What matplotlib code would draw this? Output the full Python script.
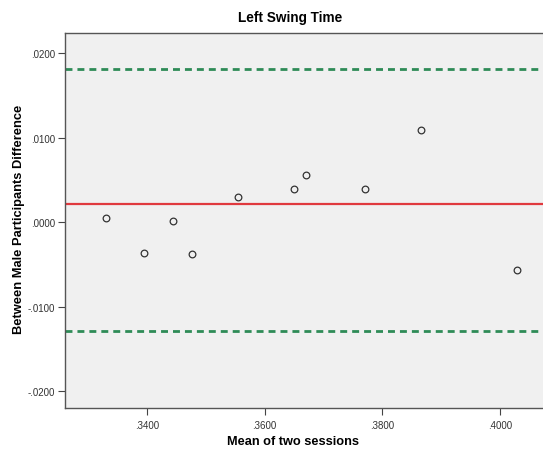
import matplotlib.pyplot as plt

# Bland-Altman data
mean_sessions = [0.3330, 0.3395, 0.3445, 0.3477, 0.3555, 0.3650, 0.3671, 0.3771, 0.3865, 0.4029]
difference = [0.0005, -0.0037, 0.0001, -0.0038, 0.0030, 0.0039, 0.0056, 0.0039, 0.0109, -0.0057]
mean_diff = 0.0021
upper_loa = 0.0181
lower_loa = -0.0129

x_ticks = [0.34, 0.36, 0.38, 0.40]
x_tick_labels = [".3400", ".3600", ".3800", ".4000"]
y_ticks = [-0.02, -0.01, 0.0, 0.01, 0.02]
y_tick_labels = ["-.0200", "-.0100", ".0000", ".0100", ".0200"]

plt.rcParams["font.family"] = ["Liberation Sans", "DejaVu Sans"]

fig = plt.figure(figsize=(5.43, 4.56), dpi=100)
ax = fig.add_axes([0.1197, 0.1031, 0.8803, 0.8223])
ax.set_facecolor("#f0f0f0")

ax.axhline(mean_diff, color="#e0393e", lw=1.6, zorder=2)
ax.axhline(upper_loa, color="#2e8b57", lw=2.0, ls=(0, (2.5, 1.8)), zorder=2)
ax.axhline(lower_loa, color="#2e8b57", lw=2.0, ls=(0, (2.5, 1.8)), zorder=2)

ax.plot(mean_sessions, difference, "o", ms=4.8, mfc="none", mec="#333333", mew=0.9, zorder=3)

ax.set_xlim(0.3261, 0.4073)
ax.set_ylim(-0.0220, 0.0224)
ax.set_xticks(x_ticks)
ax.set_xticklabels(x_tick_labels)
ax.set_yticks(y_ticks)
ax.set_yticklabels(y_tick_labels)
ax.tick_params(direction="out", length=5, width=0.8, pad=2, color="#444444", labelsize=7, labelcolor="#333333")
ax.tick_params(axis="x", pad=4)

for side in ["left", "bottom", "top"]:
    ax.spines[side].set_color("#555555")
    ax.spines[side].set_linewidth(1.0)
ax.spines["right"].set_visible(False)

fig.text(290 / 543, 1 - 18 / 456, "Left Swing Time", ha="center", va="center", fontsize=9.8, fontweight="bold")
fig.text(293 / 543, 1 - 442 / 456, "Mean of two sessions", ha="center", va="center", fontsize=9.2, fontweight="bold")
fig.text(19 / 543, 1 - 219 / 456, "Between Male Participants Difference", ha="center", va="center",
         rotation=90, fontsize=9.3, fontweight="bold")

fig.savefig("out.png", dpi=100)
